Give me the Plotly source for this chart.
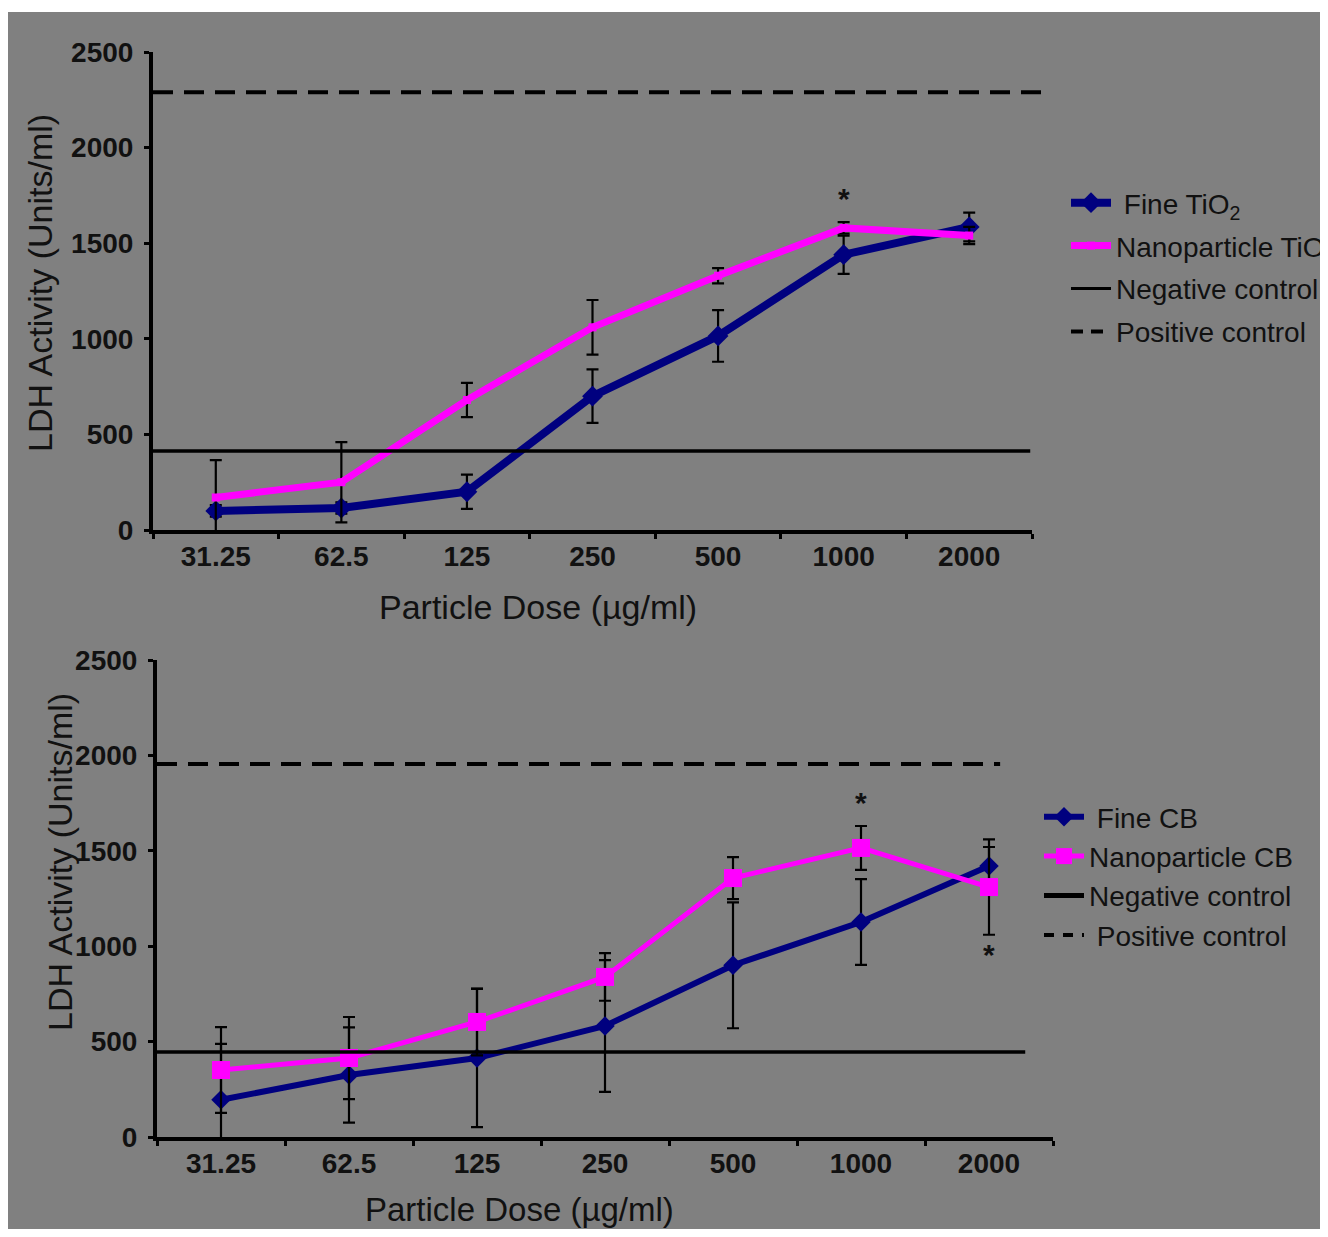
import plotly.graph_objects as go

# page body has an 8px margin, so the figure is drawn 8px in from the top-left
OFF = 8
FW, FH = 1312, 1221

doses = ["31.25", "62.5", "125", "250", "500", "1000", "2000"]

# Top panel: TiO2
fine_tio2 = [100, 115, 200, 700, 1015, 1440, 1585]
fine_tio2_err = [30, 30, 90, 140, 135, 100, 75]
nano_tio2 = [170, 250, 680, 1060, 1330, 1580, 1540]
nano_tio2_err = [195, 210, 90, 143, 40, 30, 45]
neg_tio2 = 413
pos_tio2 = 2290

# Bottom panel: carbon black
fine_cb = [195, 325, 414, 582, 900, 1127, 1420]
fine_cb_err = [293, 250, 362, 345, 330, 225, 100]
nano_cb = [351, 414, 603, 839, 1357, 1515, 1310]
nano_cb_err = [225, 215, 175, 125, 110, 115, 250]
neg_cb = 445
pos_cb = 1955

yticks = [0, 500, 1000, 1500, 2000, 2500]

NAVY = "#00007f"
MAG = "#ff00ff"
GRAY = "#808080"
FONT = "Liberation Sans, Arial, sans-serif"
INK = "#111111"


def px(x):
    return (x - OFF) / FW


def py(y):
    return 1 - (y - OFF) / FH


fig = go.Figure()

err_style = dict(type="data", color="black", thickness=2.2, width=6)

# ---- top traces
fig.add_trace(go.Scatter(
    x=doses, y=fine_tio2, mode="lines+markers", name=" Fine TiO<sub>2</sub>",
    line=dict(color=NAVY, width=8), marker=dict(symbol="diamond", size=16, color=NAVY),
    error_y=dict(array=fine_tio2_err, **err_style), xaxis="x", yaxis="y",
    legend="legend", legendgroup="a1"))
fig.add_trace(go.Scatter(
    x=doses, y=nano_tio2, mode="lines+markers", name="Nanoparticle TiO<sub>2</sub>",
    line=dict(color=MAG, width=7), marker=dict(symbol="square", size=8, color=MAG),
    error_y=dict(array=nano_tio2_err, **err_style), xaxis="x", yaxis="y",
    legend="legend", legendgroup="a2"))
fig.add_trace(go.Scatter(
    x=[None], y=[None], mode="lines", name="Negative control",
    line=dict(color="black", width=3), xaxis="x", yaxis="y",
    legend="legend", legendgroup="a3"))
fig.add_trace(go.Scatter(
    x=[None], y=[None], mode="lines", name="Positive control",
    line=dict(color="black", width=4, dash="12px,8px"), xaxis="x", yaxis="y",
    legend="legend", legendgroup="a4"))

# ---- bottom traces
fig.add_trace(go.Scatter(
    x=doses, y=fine_cb, mode="lines+markers", name=" Fine CB",
    line=dict(color=NAVY, width=6), marker=dict(symbol="diamond", size=15, color=NAVY),
    error_y=dict(array=fine_cb_err, **err_style), xaxis="x2", yaxis="y2",
    legend="legend2", legendgroup="b1"))
fig.add_trace(go.Scatter(
    x=doses, y=nano_cb, mode="lines+markers", name="Nanoparticle CB",
    line=dict(color=MAG, width=5), marker=dict(symbol="square", size=18, color=MAG),
    error_y=dict(array=nano_cb_err, **err_style), xaxis="x2", yaxis="y2",
    legend="legend2", legendgroup="b2"))
fig.add_trace(go.Scatter(
    x=[None], y=[None], mode="lines", name="Negative control",
    line=dict(color="black", width=5), xaxis="x2", yaxis="y2",
    legend="legend2", legendgroup="b3"))
fig.add_trace(go.Scatter(
    x=[None], y=[None], mode="lines", name=" Positive control",
    line=dict(color="black", width=4, dash="10px,9px"), xaxis="x2", yaxis="y2",
    legend="legend2", legendgroup="b4"))

# control lines
shapes = [
    dict(type="rect", xref="paper", yref="paper", x0=0, x1=1, y0=py(12), y1=1,
         fillcolor="white", line=dict(width=0), layer="below"),
    dict(type="line", xref="x domain", yref="y", x0=0, x1=1.015, y0=pos_tio2, y1=pos_tio2,
         line=dict(color="black", width=4, dash="20px,11px")),
    dict(type="line", xref="x domain", yref="y", x0=0, x1=0.998, y0=neg_tio2, y1=neg_tio2,
         line=dict(color="black", width=3.5)),
    dict(type="line", xref="x2 domain", yref="y2", x0=0, x1=0.941, y0=pos_cb, y1=pos_cb,
         line=dict(color="black", width=4, dash="20px,11px")),
    dict(type="line", xref="x2 domain", yref="y2", x0=0, x1=0.969, y0=neg_cb, y1=neg_cb,
         line=dict(color="black", width=3.5)),
]

tickfont = dict(family=FONT, size=28, color=INK, weight="bold")
titlefont = dict(family=FONT, size=34, color=INK)

xcommon = dict(type="category", categoryorder="array", categoryarray=doses,
               range=[-0.5, len(doses) - 0.5], tickangle=0, automargin=False,
               showline=True, linecolor="black", linewidth=4,
               ticks="outside", tickson="boundaries", ticklen=5, tickwidth=3, tickcolor="black",
               tickfont=tickfont, showgrid=False, zeroline=False, fixedrange=True,
               ticklabelstandoff=-2)
ycommon = dict(range=[0, 2500], tickvals=yticks, showline=True, linecolor="black", linewidth=4,
               ticks="outside", ticklen=5, tickwidth=3, tickcolor="black", automargin=False,
               tickfont=tickfont, showgrid=False, zeroline=False, ticklabelstandoff=5)

starfont = dict(family=FONT, size=30, color=INK, weight="bold")
annotations = [
    dict(text="LDH Activity (Units/ml)", x=px(40), y=py(283), xref="paper", yref="paper",
         xanchor="center", yanchor="middle", textangle=-90, showarrow=False, font=titlefont),
    dict(text="LDH Activity (Units/ml)", x=px(60), y=py(862), xref="paper", yref="paper",
         xanchor="center", yanchor="middle", textangle=-90, showarrow=False, font=titlefont),
    dict(text="Particle Dose (\u00b5g/ml)", x=px(538), y=py(607), xref="paper", yref="paper",
         xanchor="center", yanchor="middle", showarrow=False, font=titlefont),
    dict(text="Particle Dose (\u00b5g/ml)", x=px(519), y=py(1209), xref="paper", yref="paper",
         xanchor="center", yanchor="middle", showarrow=False,
         font=dict(family=FONT, size=33, color=INK)),
    dict(text="*", x=doses.index("1000"), y=1768, xref="x", yref="y", showarrow=False,
         yshift=-7, font=starfont),
    dict(text="*", x=doses.index("1000"), y=1792, xref="x2", yref="y2", showarrow=False,
         yshift=-7, font=starfont),
    dict(text="*", x=doses.index("2000"), y=991, xref="x2", yref="y2", showarrow=False,
         yshift=-7, font=starfont),
]

legfont = dict(family=FONT, size=28, color=INK)

fig.update_layout(
    width=FW, height=FH, autosize=False,
    margin=dict(l=0, r=0, t=0, b=0, autoexpand=False),
    paper_bgcolor=GRAY, plot_bgcolor="rgba(0,0,0,0)",
    xaxis=dict(domain=[px(153), px(1032)], anchor="y", **xcommon),
    yaxis=dict(domain=[py(530), py(52)], anchor="x", **ycommon),
    xaxis2=dict(domain=[px(157), px(1053)], anchor="y2", **xcommon),
    yaxis2=dict(domain=[py(1137), py(660)], anchor="x2", **ycommon),
    shapes=shapes,
    annotations=annotations,
    legend=dict(x=px(1066), y=py(178), xanchor="left", yanchor="top", font=legfont,
                bgcolor="rgba(0,0,0,0)", traceorder="grouped", itemwidth=40,
                tracegroupgap=3.5),
    legend2=dict(x=px(1039), y=py(792), xanchor="left", yanchor="top", font=legfont,
                 bgcolor="rgba(0,0,0,0)", traceorder="grouped", itemwidth=40,
                 tracegroupgap=0),
    showlegend=True,
)

fig.write_html("out.html")
